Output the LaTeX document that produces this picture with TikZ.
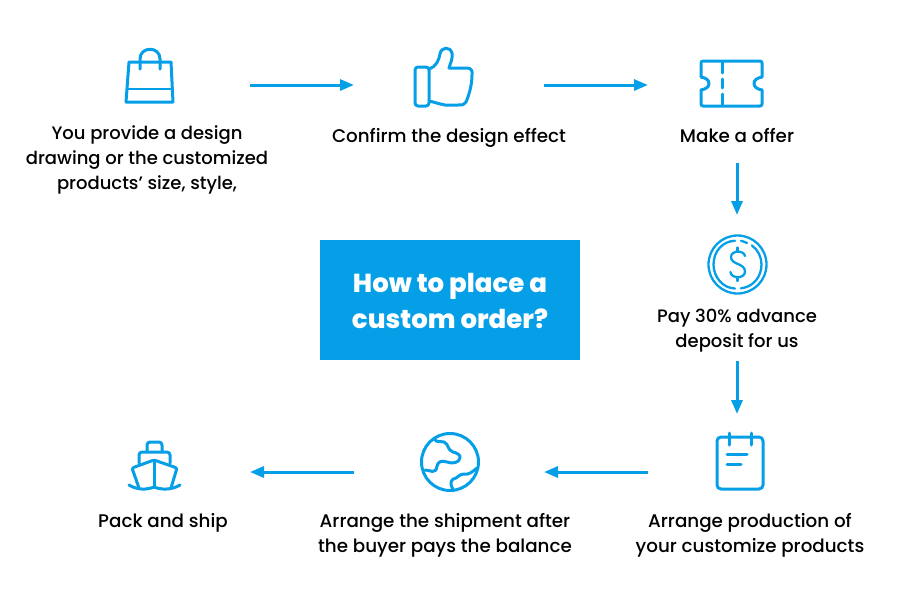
\documentclass[tikz,border=0pt]{standalone}
\usepackage{xcolor}
\usepackage{fontspec}
\setmainfont{Poppins Medium}[BoldFont={Poppins ExtraBold}]
\usetikzlibrary{arrows.meta}
\definecolor{orderblue}{HTML}{059FE8}
\tikzset{
    iconslot/.style={inner sep=0pt,outer sep=0pt},
    iconline/.style={draw=orderblue,line width=3pt,line cap=round,line join=round},
    thinline/.style={draw=orderblue,line width=2.3pt,line cap=round,line join=round},
    steplabel/.style={inner sep=0pt,outer sep=0pt,align=center,text=black,font=\fontsize{18.3}{25}\selectfont},
    smalllabel/.style={steplabel,font=\fontsize{18}{25}\selectfont},
    flow/.style={draw=orderblue,line width=3pt,-{Triangle[length=14pt,width=11pt]}}
}
\begin{document}
\begin{tikzpicture}[x=1pt,y=-1pt]
    \useasboundingbox (0,0) rectangle (900,600);
    % Centre box
    \node[fill=orderblue,minimum width=260pt,minimum height=120pt,inner sep=0pt] (titlebox) at (450,300) {};
    \node[text=white,align=center,inner sep=0pt,font=\fontsize{26}{36}\selectfont\bfseries] (title) at (450,301) {How to place a\\custom order?};

    % Slots for the icons
    \node[iconslot,minimum width=200pt,minimum height=60pt] (bag) at (150,85) {};
    \node[iconslot,minimum width=190pt,minimum height=60pt] (thumb) at (449,85) {};
    \node[iconslot,minimum width=178pt,minimum height=60pt] (ticket) at (737,85) {};
    \node[iconslot,minimum width=60pt,minimum height=100pt] (dollar) at (737,265) {};
    \node[iconslot,minimum width=178pt,minimum height=116pt] (notepad) at (737,472) {};
    \node[iconslot,minimum width=190pt,minimum height=60pt] (globe) at (449,472) {};
    \node[iconslot,minimum width=200pt,minimum height=60pt] (ship) at (150,472) {};

    % Labels
    \node[smalllabel] (baglabel) at (147,160) {You provide a design\\drawing or the customized\\products’ size, style,};
    \node[steplabel] (thumblabel) at (449,138) {Confirm the design effect};
    \node[steplabel,minimum height=54pt] (ticketlabel) at (737,136) {Make a offer};
    \node[smalllabel,minimum height=61pt] (dollarlabel) at (737,330.5) {Pay 30\% advance\\deposit for us};
    \node[steplabel] (notepadlabel) at (750,535) {Arrange production of\\your customize products};
    \node[steplabel] (globelabel) at (445,535) {Arrange the shipment after\\the buyer pays the balance};
    \node[steplabel] (shiplabel) at (163,523) {Pack and ship};

    % Arrows
    \draw[flow] (bag) -- (thumb);
    \draw[flow] (thumb) -- (ticket);
    \draw[flow] (ticketlabel) -- (dollar);
    \draw[flow] (dollarlabel) -- (notepad);
    \draw[flow] (notepad) -- (globe);
    \draw[flow] (globe) -- (ship);

    % Bag
    \draw[iconline] (129,62) -- (171,62) -- (173,102) -- (126,102) -- cycle;
    \draw[iconline,line width=1.8pt] (128,89) -- (172,89);
    \draw[iconline] (140,69) -- (140,59) .. controls (140,46) and (160,46) .. (160,59) -- (160,69);

    % Thumb
    \draw[iconline,rounded corners=3pt] (415,67) rectangle (429,106);
    \draw[iconline] (429,69) .. controls (436,67) and (439,60) .. (440,54) .. controls (441,47) and (450,46) .. (452,53) .. controls (453,59) and (450,64) .. (449,68) -- (467,68) .. controls (471,68) and (473,71) .. (472,75) .. controls (472,85) and (469,95) .. (466,102) .. controls (465,105) and (462,105) .. (458,105) -- (445,105) .. controls (439,104) and (434,102) .. (429,101);

    % Ticket
    \draw[iconline,rounded corners=2pt] (701,77) -- (701,61) -- (762,61) -- (762,77);
    \draw[iconline,rounded corners=2pt] (701,90) -- (701,106) -- (762,106) -- (762,90);
    \draw[iconline] (701,77) .. controls (706,78) and (709,80) .. (709,83.5) .. controls (709,87) and (706,89) .. (701,90);
    \draw[iconline] (762,77) .. controls (757,78) and (754,80) .. (754,83.5) .. controls (754,87) and (757,89) .. (762,90);
    \draw[iconline] (722,62) -- (722,73);
    \draw[iconline] (722,79) -- (722,88);
    \draw[iconline] (722,94) -- (722,105);

    % Dollar
    \draw[thinline] (737.5,264.5) circle (29pt);
    \draw[thinline] (735,240.8) .. controls (723,241) and (713.5,251) .. (713.5,264.5) .. controls (713.5,278) and (724,288.5) .. (735,288.5);
    \draw[thinline] (741,288.3) .. controls (753,287) and (761.5,277) .. (761.5,264.5) .. controls (761.5,257) and (758,250) .. (752,245.5);
    \draw[thinline] (747,243) .. controls (745,242) and (743,241.3) .. (741,240.8);
    \draw[thinline] (745,256) .. controls (744,250) and (731,250) .. (731,257) .. controls (731,265) and (745,263) .. (745,271.5) .. controls (745,279) and (731,279) .. (730.5,272);
    \draw[thinline] (737.5,247.5) -- (737.5,251.5);
    \draw[thinline] (737.5,277) -- (737.5,281);

    % Notepad
    \draw[iconline,rounded corners=4pt] (717,437) rectangle (763,489);
    \draw[iconline] (729,433) -- (729,445);
    \draw[iconline] (751,433) -- (751,445);
    \draw[iconline] (727,454) -- (747,454);
    \draw[iconline] (727,464) -- (741,464);

    % Globe
    \draw[iconline] (450,462) circle (28.5pt);
    \draw[iconline] (434,439) .. controls (437,443) and (441,441) .. (444,442) .. controls (449,444) and (447,450) .. (453,452) .. controls (457,453) and (461,455) .. (460,458) .. controls (459,463) and (452,464) .. (447,462) .. controls (441,460) and (438,462) .. (437,466) .. controls (436,475) and (430,470) .. (425,470);
    \draw[iconline] (477,468) .. controls (472,472) and (469,475) .. (464,474) .. controls (460,474) and (458,477) .. (456,478) .. controls (451,479) and (449,483) .. (453,489);

    % Ship
    \draw[iconline,rounded corners=3pt] (147,452) -- (147,442) -- (162,442) -- (162,452);
    \draw[iconline,rounded corners=3pt] (139,463) -- (139,452) -- (170,452) -- (170,463);
    \draw[iconline,rounded corners=2pt] (139,488) -- (132,468) -- (154,460) -- (177,468) -- (171,488);
    \draw[iconline] (154,460) -- (154,487);
    \draw[iconline] (129,485) .. controls (137,490) and (147,490) .. (154,487) .. controls (161,490) and (172,490) .. (180,485);
\end{tikzpicture}
\end{document}
